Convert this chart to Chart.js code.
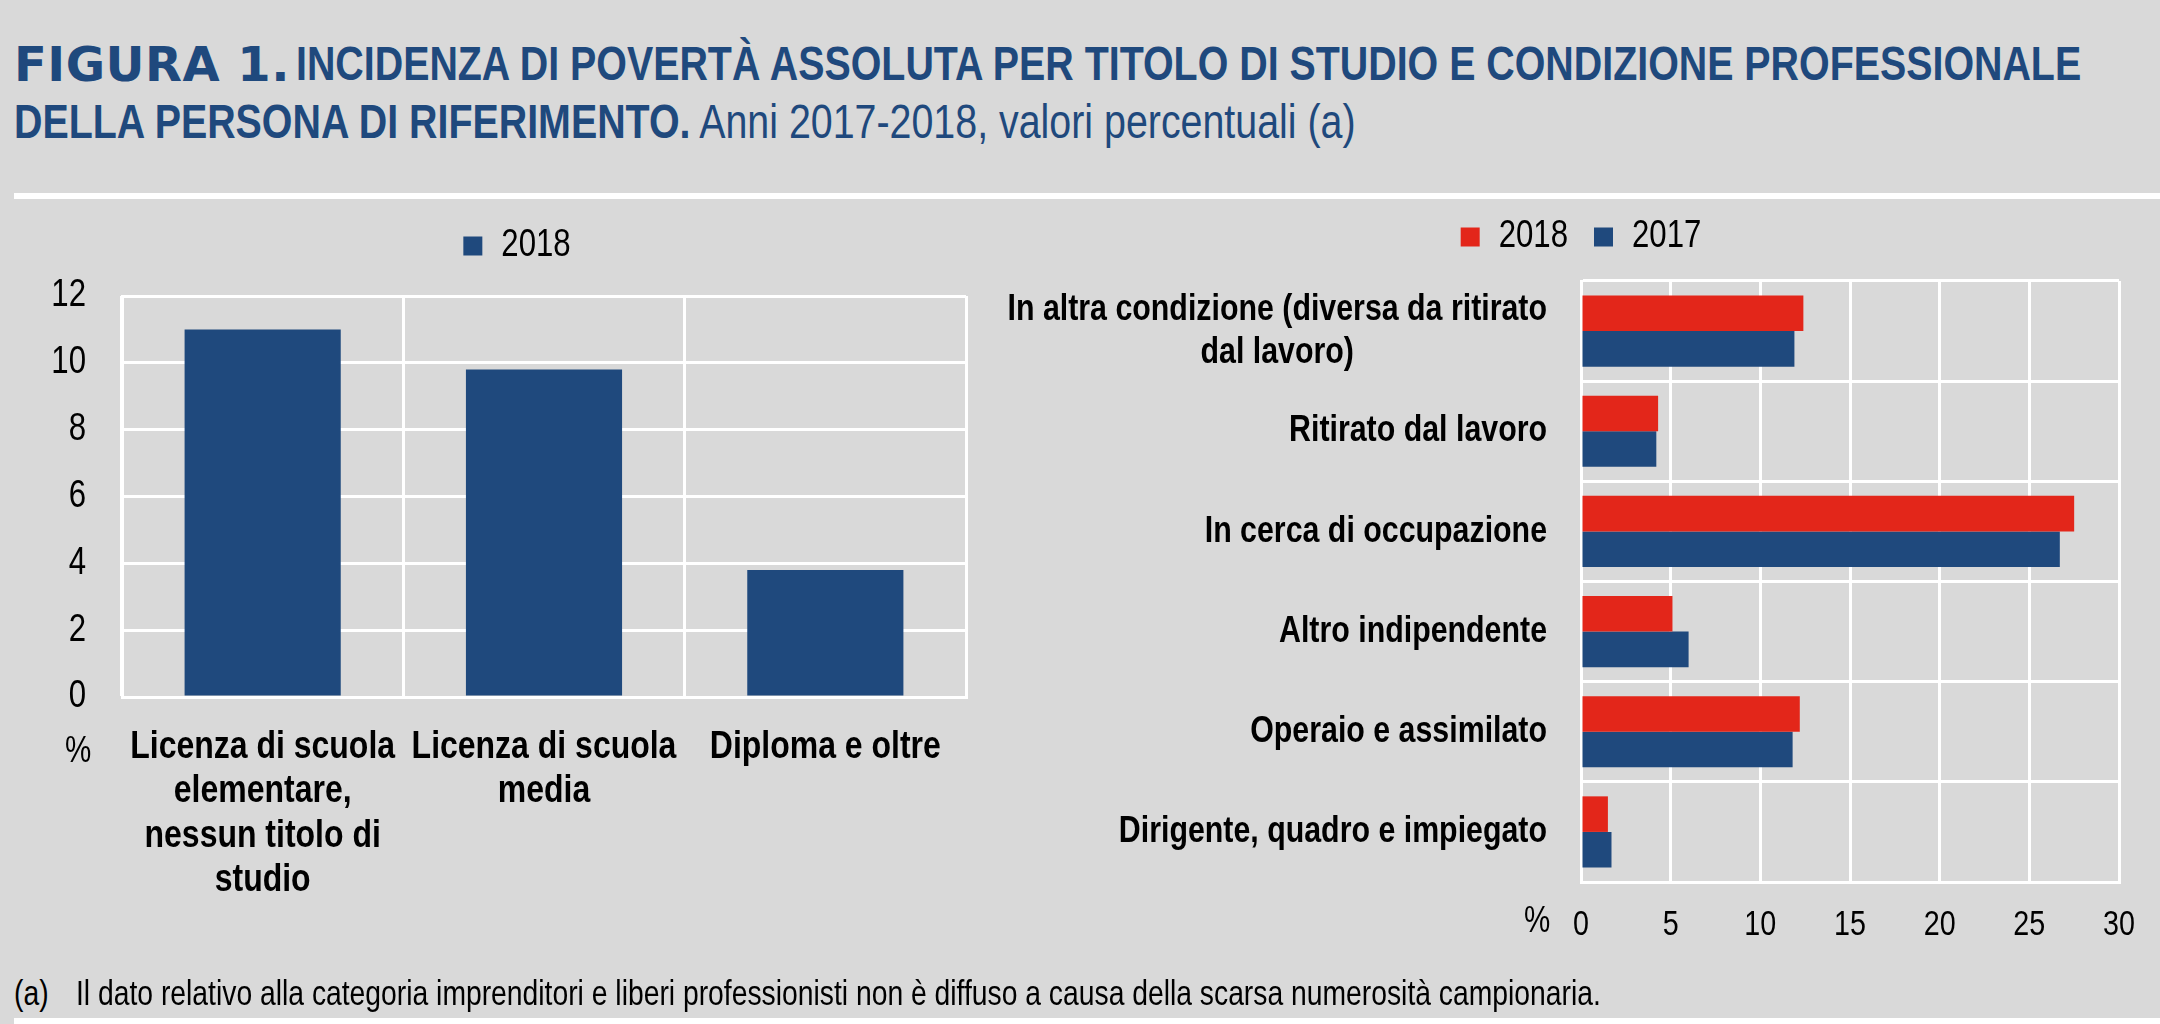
<!DOCTYPE html>
<html>
<head>
<meta charset="utf-8">
<script src="https://cdn.jsdelivr.net/npm/chart.js@4.4.1/dist/chart.umd.min.js"></script>
<style>
html,body{margin:0;padding:0;background:#D9D9D9;width:2160px;height:1024px;overflow:hidden;}
body{position:relative;font-family:'Liberation Sans',Arial,sans-serif;}
.t{position:absolute;white-space:nowrap;}
.nar{transform:scaleX(0.82);transform-origin:0 0;}
.title{color:#1F497D;font-size:48px;line-height:48px;}
.fig{font-family:'DejaVu Sans',sans-serif;font-weight:bold;letter-spacing:0.5px;}
.pct{width:40px;text-align:center;font-size:36px;line-height:36px;color:#000;}
.pct span{display:inline-block;transform:scaleX(0.82);}
.note{font-size:34.5px;line-height:36px;color:#000;}
canvas{position:absolute;}
.line{position:absolute;background:#fff;}
</style>
</head>
<body>
<div class="t title fig" style="left:14px;top:40px;">FIGURA 1.</div>
<div class="t title nar" style="left:296px;top:40px;"><b>INCIDENZA DI POVERTÀ ASSOLUTA PER TITOLO DI STUDIO E CONDIZIONE PROFESSIONALE</b></div>
<div class="t title nar" style="left:14px;top:98px;"><b>DELLA PERSONA DI RIFERIMENTO.</b> Anni 2017-2018, valori percentuali (a)</div>
<div class="line" style="left:14px;top:193px;width:2146px;height:6px;"></div>

<canvas id="c1" width="1000" height="717" style="left:0px;top:200px;"></canvas>
<canvas id="c2" width="1158" height="802" style="left:1002px;top:180px;"></canvas>

<div class="t pct" style="left:58px;top:732px;"><span>%</span></div>
<div class="t pct" style="left:1517px;top:902px;"><span>%</span></div>

<div class="t note nar" style="left:14px;top:975px;">(a)</div>
<div class="t note nar" style="left:76px;top:975px;">Il dato relativo alla categoria imprenditori e liberi professionisti non è diffuso a causa della scarsa numerosità campionaria.</div>
<div class="line" style="left:14px;top:1018px;width:2146px;height:6px;"></div>

<script>
// ---- data ----
const eduCategories = [
  ["Licenza di scuola", "elementare,", "nessun titolo di", "studio"],
  ["Licenza di scuola", "media"],
  ["Diploma e oltre"]
];
const edu2018 = [11.0, 9.8, 3.8];

const jobCategories = [
  ["In altra condizione (diversa da ritirato", "dal lavoro)"],
  ["Ritirato dal lavoro"],
  ["In cerca di occupazione"],
  ["Altro indipendente"],
  ["Operaio e assimilato"],
  ["Dirigente, quadro e impiegato"]
];
const job2018 = [12.4, 4.3, 27.5, 5.1, 12.2, 1.5];
const job2017 = [11.9, 4.2, 26.7, 6.0, 11.8, 1.7];

const seriesNames = ["2018", "2017"];
const eduAxis = { min: 0, max: 12, step: 2 };
const jobAxis = { min: 0, max: 30, step: 5 };

// ---- style ----
const FONT = "'Liberation Sans', Arial, sans-serif";
const SX = 0.82; // horizontal condensing (Arial Narrow look)
const BLUE = '#1F497D';
const RED = '#E3261A';
const GRID = '#FFFFFF';

Chart.defaults.font.family = FONT;
Chart.defaults.color = '#000';

// condensed text on a canvas context
function narrowCtx(canvas) {
  const ctx = canvas.getContext('2d');
  const fill = ctx.fillText.bind(ctx);
  const measure = ctx.measureText.bind(ctx);
  ctx.fillText = function (text, x, y, maxWidth) {
    this.save();
    this.translate(x, y);
    this.scale(SX, 1);
    if (maxWidth !== undefined && maxWidth !== null) fill(text, 0, 0, maxWidth / SX);
    else fill(text, 0, 0);
    this.restore();
  };
  ctx.measureText = function (text) {
    const m = measure(text);
    return {
      width: m.width * SX,
      actualBoundingBoxAscent: m.actualBoundingBoxAscent,
      actualBoundingBoxDescent: m.actualBoundingBoxDescent,
      actualBoundingBoxLeft: m.actualBoundingBoxLeft * SX,
      actualBoundingBoxRight: m.actualBoundingBoxRight * SX,
      fontBoundingBoxAscent: m.fontBoundingBoxAscent,
      fontBoundingBoxDescent: m.fontBoundingBoxDescent
    };
  };
  return canvas;
}

// spacer used below legends
function spacer(h) {
  return { display: true, text: '', weight: 500, padding: 0, font: { size: 10, lineHeight: h / 10 } };
}

// y tick labels of the left chart (drawn from the scale's own ticks)
const yTickLabels = {
  id: 'yTickLabels',
  afterDraw(chart) {
    const sc = chart.scales.y;
    const ctx = chart.ctx;
    ctx.save();
    ctx.font = '38px ' + FONT;
    ctx.fillStyle = '#000';
    ctx.textAlign = 'right';
    ctx.textBaseline = 'middle';
    sc.ticks.forEach(t => ctx.fillText(String(t.value), sc.right - 36, sc.getPixelForValue(t.value)));
    ctx.restore();
  }
};

// Left chart
new Chart(narrowCtx(document.getElementById('c1')), {
  type: 'bar',
  data: {
    labels: eduCategories,
    datasets: [{
      label: seriesNames[0], data: edu2018, backgroundColor: BLUE,
      categoryPercentage: 0.555, barPercentage: 1, borderWidth: 0
    }]
  },
  options: {
    responsive: false, animation: false, devicePixelRatio: 1,
    layout: { padding: { left: 68, right: 34, top: 17, bottom: 0 } },
    plugins: {
      legend: {
        display: true, position: 'top',
        labels: { color: '#000', font: { family: FONT, size: 38 }, boxWidth: 19, boxHeight: 19, padding: 10 }
      },
      title: spacer(21),
      tooltip: { enabled: false }
    },
    scales: {
      x: {
        grid: { color: GRID, lineWidth: 3, drawTicks: false },
        border: { color: GRID, width: 3 },
        ticks: { color: '#000', font: { family: FONT, size: 39, weight: 'bold', lineHeight: 1.14 }, padding: 28, maxRotation: 0, minRotation: 0, autoSkip: false },
        afterFit: s => { s.height = 220; }
      },
      y: {
        min: eduAxis.min, max: eduAxis.max,
        grid: { color: GRID, lineWidth: 3, drawTicks: false },
        border: { color: GRID, width: 3 },
        ticks: { stepSize: eduAxis.step, display: false },
        afterFit: s => { s.width = 54; }
      }
    }
  },
  plugins: [yTickLabels]
});

// multi-line category labels: lines centred within a right-aligned block
const catLabels = {
  id: 'catLabels',
  afterDraw(chart) {
    const sc = chart.scales.y;
    const ctx = chart.ctx;
    ctx.save();
    ctx.font = 'bold 37px ' + FONT;
    ctx.fillStyle = '#000';
    ctx.textBaseline = 'middle';
    ctx.textAlign = 'center';
    const right = sc.right - 34;
    const lh = 43;
    jobCategories.forEach((lines, i) => {
      const y = sc.getPixelForTick(i);
      const w = Math.max(...lines.map(l => ctx.measureText(l).width));
      const cx = right - w / 2;
      lines.forEach((l, j) => ctx.fillText(l, cx, y + (j - (lines.length - 1) / 2) * lh));
    });
    ctx.restore();
  }
};

// Right chart
new Chart(narrowCtx(document.getElementById('c2')), {
  type: 'bar',
  data: {
    labels: jobCategories.map(l => l.join(' ')),
    datasets: [
      { label: seriesNames[0], data: job2018, backgroundColor: RED, borderWidth: 0 },
      { label: seriesNames[1], data: job2017, backgroundColor: BLUE, borderWidth: 0 }
    ]
  },
  options: {
    indexAxis: 'y',
    responsive: false, animation: false, devicePixelRatio: 1,
    datasets: { bar: { categoryPercentage: 0.71, barPercentage: 1 } },
    layout: { padding: { left: 41, right: 41, top: 12, bottom: 0 } },
    plugins: {
      legend: {
        display: true, position: 'top',
        labels: { color: '#000', font: { family: FONT, size: 38 }, boxWidth: 19, boxHeight: 19, padding: 26 }
      },
      title: spacer(15),
      tooltip: { enabled: false }
    },
    scales: {
      x: {
        min: jobAxis.min, max: jobAxis.max,
        grid: { color: GRID, lineWidth: 3, drawTicks: false },
        border: { color: GRID, width: 3 },
        ticks: { stepSize: jobAxis.step, color: '#000', font: { family: FONT, size: 35 }, padding: 22, maxRotation: 0 },
        afterFit: s => { s.height = 100; }
      },
      y: {
        grid: { color: GRID, lineWidth: 3, drawTicks: false },
        border: { color: GRID, width: 3 },
        ticks: { display: false },
        afterFit: s => { s.width = 538; }
      }
    }
  },
  plugins: [catLabels]
});
</script>
</body>
</html>
